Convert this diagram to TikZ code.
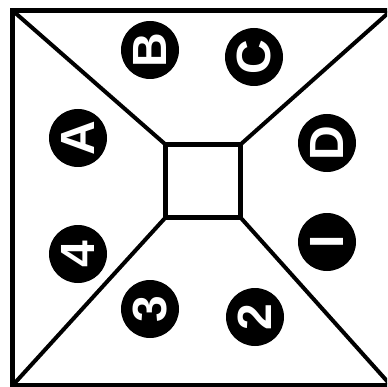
\documentclass[tikz,border=0pt]{standalone}
\usepackage{fontspec}
\setmainfont{Liberation Sans}
\usetikzlibrary{positioning}
\tikzset{
  frame/.style={
    rectangle,
    draw,
    line width=5pt,
    outer sep=0pt,
    inner sep=0pt
  },
  edgeline/.style={
    line width=4pt,
    line cap=round
  },
  badge/.style={
    circle,
    fill=black,
    text=white,
    minimum size=58pt,
    inner sep=0pt,
    rotate=90,
    font=\fontsize{48}{48}\selectfont\bfseries
  }
}

\begin{document}
\begin{tikzpicture}[x=1pt, y=-1pt]

  % Page
  \useasboundingbox (0,0) rectangle (387,387);
  \clip (0,0) rectangle (387,387);

  % Outer and inner squares
  \node[frame, minimum width=378.5pt, minimum height=375pt] (outer) at (201.75,198) {};
  \node[frame, minimum width=75pt, minimum height=73pt] (inner) at (203,181) {};

  % Diagonals
  \draw[edgeline] (outer.north west) -- (inner.north west);
  \draw[edgeline] (outer.north east) -- (inner.north east);
  \draw[edgeline] (outer.south west) -- (inner.south west);
  \draw[edgeline] (outer.south east) -- (inner.south east);

  % Top
  \node[badge] (b) at (150,50) {B};
  \node[badge] (c) at (254,57) {C};

  % Right
  \node[badge] (d) at (327,143) {D};
  \node[badge] (one) at (327,242) {I};

  % Bottom
  \node[badge] (two) at (255,317) {2};
  \node[badge] (three) at (150,309) {3};

  % Left
  \node[badge] (four) at (78,254) {4};
  \node[badge] (a) at (78,138) {A};

\end{tikzpicture}
\end{document}
